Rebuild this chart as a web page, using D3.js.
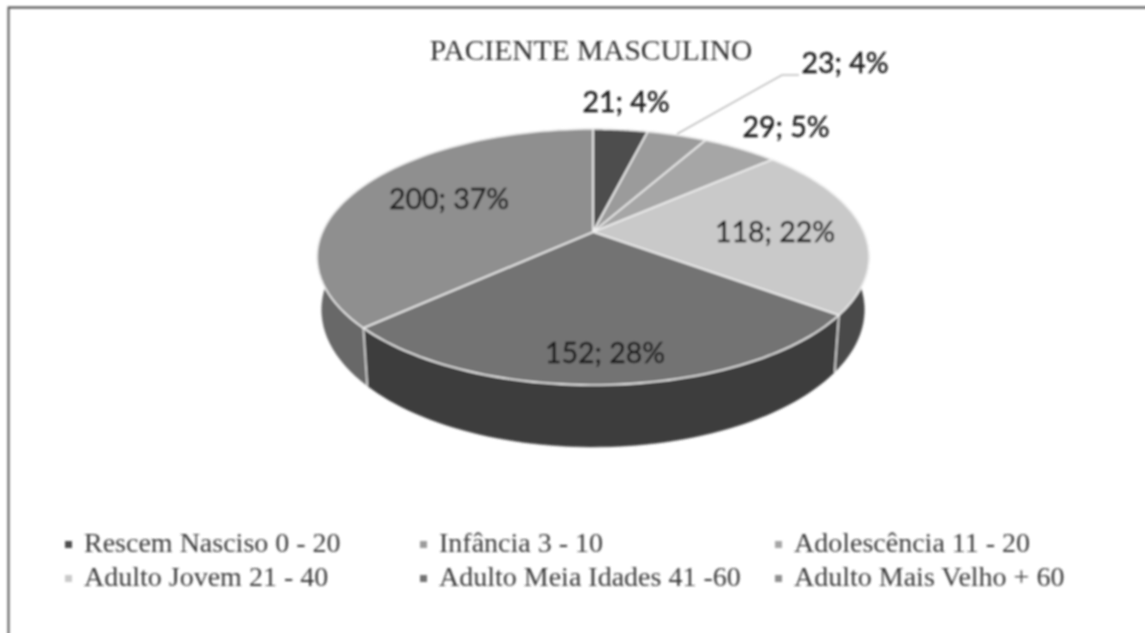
<!DOCTYPE html>
<html>
<head>
<meta charset="utf-8">
<script src="https://cdn.jsdelivr.net/npm/d3@7"></script>
<style>
html,body{margin:0;padding:0;background:#fff;overflow:hidden}
svg{display:block}
</style>
</head>
<body>
<svg id="canvas" width="1145" height="633"></svg>
<script>
let categories=["Rescem Nasciso 0 - 20","Infância 3 - 10","Adolescência 11 - 20","Adulto Jovem 21 - 40","Adulto Meia Idades 41 -60","Adulto Mais Velho + 60"];
let values=[21,23,29,118,152,200];
let percents=[4,4,5,22,28,37];
let topColors=["#4e4e4e","#9b9b9b","#a6a6a6","#c9c9c9","#737373","#8f8f8f"];
let sideColors=["#333333","#666666","#6e6e6e","#4a4a4a","#3e3e3e","#686868"];
// label centres, same order as categories
let labelX=[626,845,786,775,605,449];
let labelY=[102,63,127,232,353,199];

let svg=d3.select("#canvas");
let soft=svg.append("defs").append("filter").attr("id","soft").attr("filterUnits","userSpaceOnUse")
  .attr("x",0).attr("y",0).attr("width",1145).attr("height",633);
soft.append("feGaussianBlur").attr("stdDeviation",0.8);
let root=svg.append("g").attr("filter","url(#soft)");

// frame, only top and left survive in the scan
root.append("path").attr("d","M8.5,640V7.5H1150").attr("fill","none").attr("stroke","#444").attr("stroke-width",1.8);

root.append("text").text("PACIENTE MASCULINO").attr("x",591).attr("y",60).style("text-anchor","middle")
  .style("font","29.5px 'Liberation Serif'").style("fill","#333");

// pie tilted in perspective: apex sits above the centre of the ellipse
let cx=593,cy=257,rx=276,ry=128,apex=-25;
let k=apex/ry,c=rx*Math.sqrt(1-k*k);
function topPoint(a,r){
  let u=Math.sin(a)*r,v=-Math.cos(a)*r,den=1+k*v;
  return [cx+c*u/den,cy+(ry*v+apex)/den];
}
function bottomPoint(a){
  let p=topPoint(a,1);
  return [cx+0.983*(p[0]-cx),1.072*p[1]+34.2];
}
function arcAngles(d){
  return d3.range(0,61).map(i=>d.startAngle+(d.endAngle-d.startAngle)*i/60);
}
let pie=d3.pie().sort(null).value(d=>d);
let slices=pie(values);
let line=d3.line();

// walls first, the top faces cover the rear part
let walls=root.append("g");
slices.forEach((d,i)=>{
  let as=arcAngles(d);
  let pts=as.map(a=>topPoint(a,1)).concat(as.slice().reverse().map(bottomPoint));
  walls.append("path").attr("d",line(pts)+"Z").attr("fill",sideColors[i]).attr("stroke",sideColors[i]).attr("stroke-width",0.5);
});
// wall seams that face the viewer
[slices[3].endAngle,slices[4].endAngle].forEach(a=>{
  walls.append("path").attr("d",line([topPoint(a,1),bottomPoint(a)])).attr("stroke","#d4d4d4").attr("stroke-width",1.8).attr("fill","none");
});

let faces=root.append("g");
slices.forEach((d,i)=>{
  let pts=[topPoint(0,0)].concat(arcAngles(d).map(a=>topPoint(a,1)));
  faces.append("path").attr("d",line(pts)+"Z").attr("fill",topColors[i]).attr("stroke","#f0f0f0").attr("stroke-width",1.6).attr("stroke-linejoin","round");
});

// leader for the second label
root.append("path").attr("d","M677,134L782,75H799").attr("fill","none").attr("stroke","#bdbdbd").attr("stroke-width",1.5);

values.forEach((v,i)=>{
  root.append("text").text(v+"; "+percents[i]+"%").attr("x",labelX[i]).attr("y",labelY[i]+10).style("text-anchor","middle")
    .style("font","28.5px Lato").style("fill","#1a1a1a").style("stroke","#1a1a1a").style("stroke-width",0.4);
});

// legend, three columns by two rows
let colText=[84,439,794],rowBase=[552,586];
categories.forEach((name,i)=>{
  let col=i%3,row=Math.floor(i/3);
  root.append("rect").attr("x",colText[col]-19).attr("y",rowBase[row]-11).attr("width",7).attr("height",7).attr("fill",topColors[i]);
  root.append("text").text(name).attr("x",colText[col]).attr("y",rowBase[row])
    .style("font","28px 'Liberation Serif'").style("fill","#3a3a3a");
});
</script>
</body>
</html>
